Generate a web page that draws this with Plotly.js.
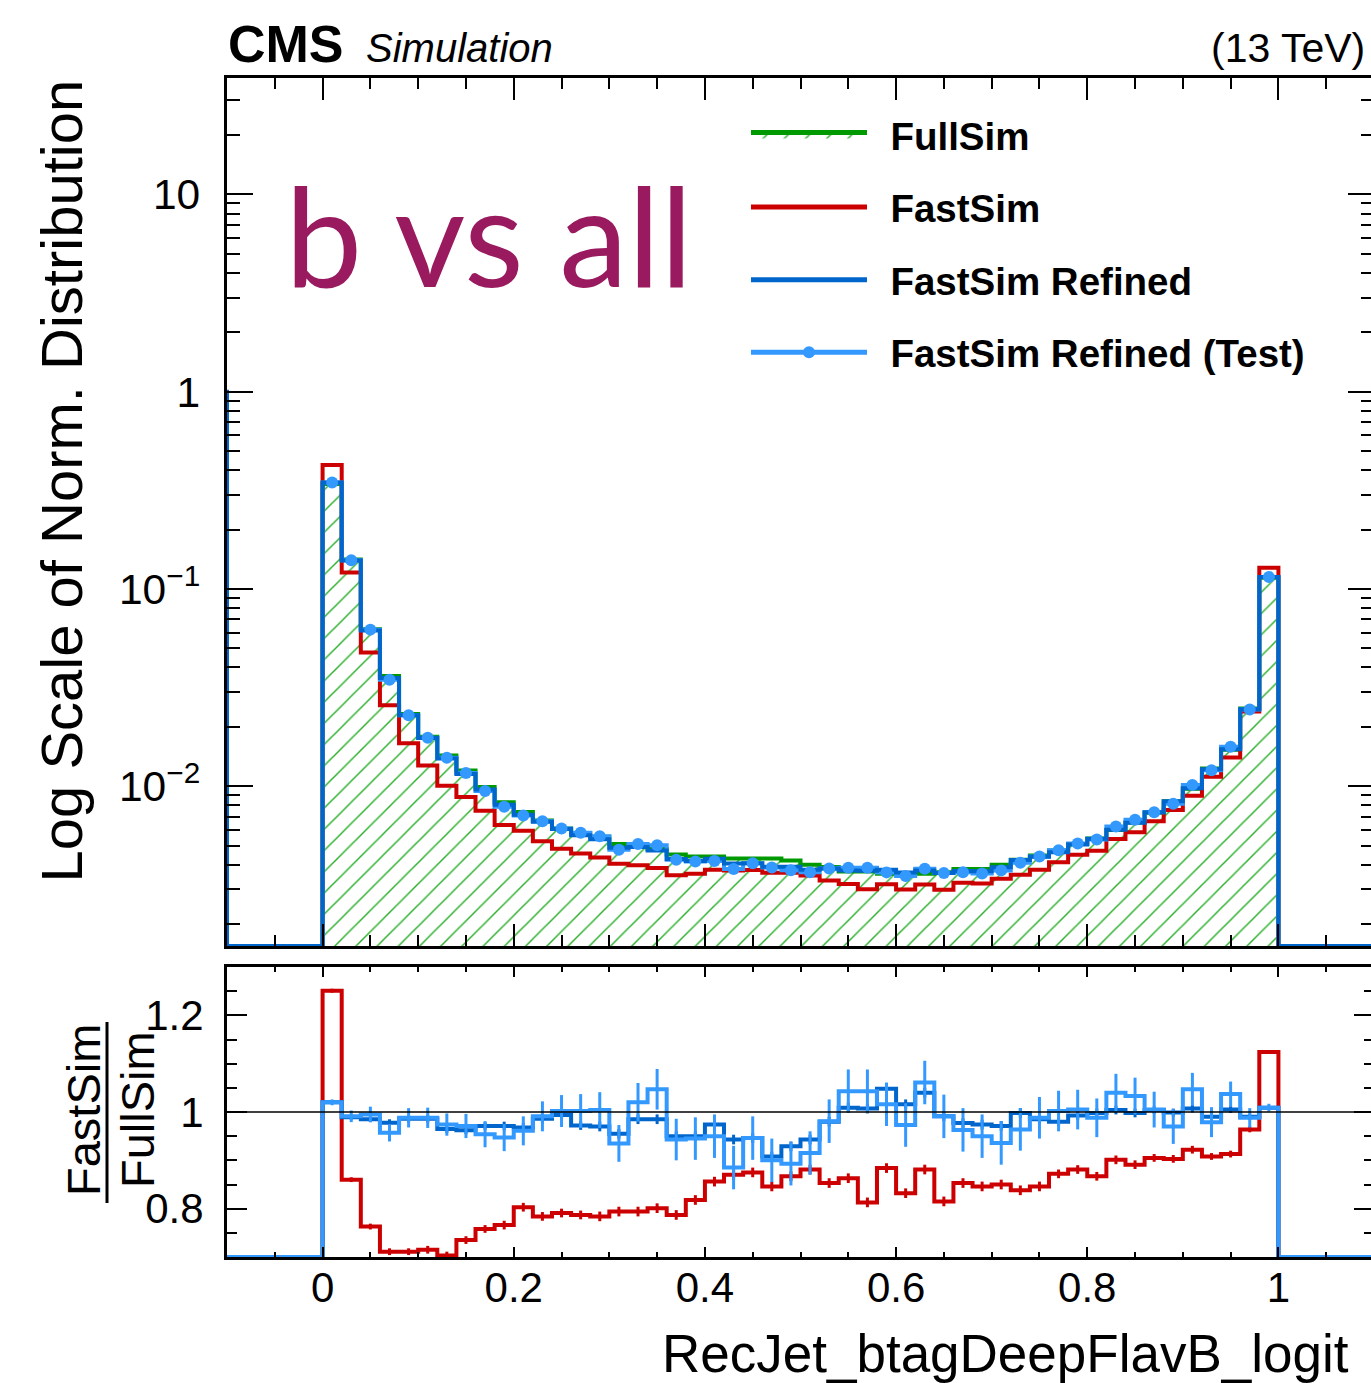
<!DOCTYPE html>
<html>
<head>
<meta charset="utf-8">
<script src="https://cdn.plot.ly/plotly-3.0.1.min.js"></script>
<style>
  html, body { margin: 0; padding: 0; background: #ffffff; overflow: hidden; }
  #chart { width: 1374px; height: 1383px; }
</style>
</head>
<body>
<div id="chart"></div>
<script>
// RecJet_btagDeepFlavB_logit: 50 bins of width 0.02 on [0, 1]
const binLow = 0.0;
const binWidth = 0.02;

// Normalised FullSim distribution, one value per bin
const fullSim = [
  0.340, 0.141, 0.0625, 0.0362, 0.0232, 0.0178, 0.0143, 0.0120, 0.0099, 0.0083,
  0.0074, 0.0067, 0.0061, 0.0058, 0.00555, 0.0051, 0.0050, 0.0048, 0.0045, 0.0044,
  0.0044, 0.0043, 0.0043, 0.0043, 0.0042, 0.0040, 0.0039, 0.0037, 0.0037, 0.0036,
  0.0036, 0.0036, 0.00366, 0.0038, 0.0038, 0.0040, 0.00424, 0.00446, 0.00472, 0.0051,
  0.00543, 0.0060, 0.00655, 0.00734, 0.0084, 0.0097, 0.0123, 0.0153, 0.0248, 0.114
];

// Ratios to FullSim, one value per bin
const ratioFastSim = [
  1.251, 0.860, 0.763, 0.711, 0.711, 0.715, 0.703, 0.735, 0.758, 0.766,
  0.803, 0.784, 0.791, 0.787, 0.784, 0.794, 0.794, 0.801, 0.787, 0.818,
  0.856, 0.870, 0.875, 0.846, 0.867, 0.881, 0.853, 0.863, 0.813, 0.884,
  0.832, 0.881, 0.815, 0.853, 0.846, 0.850, 0.838, 0.846, 0.872, 0.881,
  0.867, 0.901, 0.891, 0.905, 0.903, 0.922, 0.908, 0.913, 0.964, 1.124
];
const ratioRefined = [
  1.020, 0.989, 0.985, 0.978, 0.986, 0.986, 0.965, 0.962, 0.971, 0.971,
  0.968, 0.986, 0.994, 0.972, 0.970, 0.955, 0.985, 0.985, 0.950, 0.950,
  0.974, 0.943, 0.946, 0.908, 0.929, 0.943, 0.980, 1.009, 1.007, 1.048,
  1.016, 1.040, 0.991, 0.977, 0.974, 0.971, 0.998, 0.985, 0.980, 0.993,
  0.998, 1.004, 0.998, 1.004, 0.999, 1.007, 0.990, 1.005, 0.990, 1.009
];
const ratioRefinedTest = [
  1.020, 0.991, 0.995, 0.957, 0.988, 0.988, 0.974, 0.971, 0.954, 0.947,
  0.961, 0.991, 1.002, 1.002, 1.004, 0.935, 1.020, 1.047, 0.943, 0.945,
  0.950, 0.885, 0.946, 0.900, 0.893, 0.915, 0.981, 1.043, 1.043, 1.016,
  0.973, 1.061, 0.991, 0.963, 0.950, 0.936, 0.964, 0.988, 1.002, 1.005,
  0.988, 1.040, 1.033, 1.005, 0.970, 1.047, 0.979, 1.037, 0.988, 1.009
];

// Statistical uncertainties of the ratios
const errFastSim = [
  0.004, 0.005, 0.006, 0.007, 0.007, 0.008, 0.008, 0.008, 0.008, 0.009,
  0.009, 0.009, 0.009, 0.009, 0.010, 0.010, 0.010, 0.010, 0.010, 0.010,
  0.010, 0.010, 0.010, 0.010, 0.010, 0.010, 0.010, 0.010, 0.010, 0.010,
  0.010, 0.010, 0.010, 0.010, 0.010, 0.010, 0.010, 0.010, 0.009, 0.009,
  0.009, 0.009, 0.009, 0.008, 0.008, 0.008, 0.007, 0.007, 0.006, 0.004
];
const errRefined = [
  0.004, 0.005, 0.006, 0.007, 0.007, 0.008, 0.008, 0.008, 0.008, 0.009,
  0.009, 0.009, 0.009, 0.009, 0.010, 0.010, 0.010, 0.010, 0.010, 0.010,
  0.010, 0.010, 0.010, 0.010, 0.010, 0.010, 0.010, 0.010, 0.010, 0.010,
  0.010, 0.010, 0.010, 0.010, 0.010, 0.010, 0.010, 0.010, 0.009, 0.009,
  0.009, 0.009, 0.009, 0.008, 0.008, 0.008, 0.007, 0.007, 0.006, 0.004
];
const errRefinedTest = [
  0.006, 0.012, 0.016, 0.018, 0.020, 0.021, 0.023, 0.025, 0.027, 0.028,
  0.030, 0.031, 0.033, 0.035, 0.037, 0.038, 0.040, 0.042, 0.043, 0.044,
  0.045, 0.045, 0.045, 0.045, 0.045, 0.045, 0.045, 0.045, 0.045, 0.045,
  0.045, 0.045, 0.045, 0.045, 0.045, 0.045, 0.044, 0.043, 0.042, 0.041,
  0.040, 0.039, 0.038, 0.037, 0.036, 0.034, 0.031, 0.026, 0.020, 0.008
];

// FastSim Refined content of the bin just below the axis range
const refinedUnderflow = 1.0;

// Histogram contents derived from FullSim and the ratios
const fastSim = fullSim.map((v, i) => v * ratioFastSim[i]);
const refined = fullSim.map((v, i) => v * ratioRefined[i]);
const refinedTest = fullSim.map((v, i) => v * ratioRefinedTest[i]);

// ---------------------------------------------------------------- geometry
const W = 1374, H = 1383;
const M = { l: 227, r: 0, t: 78, b: 126 };
const plotW = W - M.l - M.r, plotH = H - M.t - M.b;
const paperX = px => (px - M.l) / plotW;
const paperY = py => (H - M.b - py) / plotH;

const X_RANGE = [-0.1, 1.1];
const Y_LOG_RANGE = [-2.81, 1.59];
const RATIO_RANGE = [0.7, 1.3];
const yFloor = Math.pow(10, Y_LOG_RANGE[0]);
const rFloor = RATIO_RANGE[0];
const nPad = Math.round((binLow - X_RANGE[0]) / binWidth);

const FONT = 'Liberation Sans, Arial, Helvetica, sans-serif';
const C_GREEN = '#009900', C_HATCH = '#2fb02f';
const C_RED = '#cc0000', C_BLUE = '#0066cc', C_LIGHT = '#3399ff';
const KEY_GAP = '\u00a0\u2009';   // spacing between legend key and label

// empty bins on both sides of [0, 1], inside the axis range
function padded(values) {
  const z = new Array(nPad).fill(0);
  return z.concat(values, z);
}
// step outline of a histogram starting at lower edge lo; contents below the
// frame are drawn on the frame edge
function step(values, lo, floor) {
  const x = [], y = [];
  values.forEach((v, i) => { x.push(lo + i * binWidth); y.push(Math.max(v, floor)); });
  x.push(lo + values.length * binWidth);
  y.push(Math.max(values[values.length - 1], floor));
  return { x, y };
}
const centers = fullSim.map((_, i) => binLow + (i + 0.5) * binWidth);
const padLow = binLow - nPad * binWidth;

const sFull = step(padded(fullSim), padLow, yFloor);
const sFast = step(padded(fastSim), padLow, yFloor);
const sRef = step([refinedUnderflow].concat(padded(refined)), padLow - binWidth, yFloor);
const sTest = step(padded(refinedTest), padLow, yFloor);

const rFast = step(padded(ratioFastSim), padLow, rFloor);
const rRef = step(padded(ratioRefined), padLow, rFloor);
const rTest = step(padded(ratioRefinedTest), padLow, rFloor);

const traces = [
  { x: sFull.x, y: sFull.y, xaxis: 'x', yaxis: 'y', type: 'scatter', mode: 'lines',
    line: { shape: 'hv', color: C_GREEN, width: 4 }, fill: 'tozeroy',
    fillcolor: 'rgba(0,0,0,0)',
    fillpattern: { shape: '/', fgcolor: C_HATCH, bgcolor: 'rgba(255,255,255,0)', size: 15, solidity: 0.1 },
    name: KEY_GAP + 'FullSim', legendgroup: 'full', legendrank: 1, hoverinfo: 'skip' },
  { x: sFast.x, y: sFast.y, xaxis: 'x', yaxis: 'y', type: 'scatter', mode: 'lines',
    line: { shape: 'hv', color: C_RED, width: 4 },
    name: KEY_GAP + 'FastSim', legendgroup: 'fast', legendrank: 2, hoverinfo: 'skip' },
  { x: sTest.x, y: sTest.y, xaxis: 'x', yaxis: 'y', type: 'scatter', mode: 'lines+markers',
    line: { shape: 'hv', color: C_LIGHT, width: 4 },
    marker: { size: 0.01, color: C_LIGHT },
    name: KEY_GAP + 'FastSim Refined (Test)', legendgroup: 'test', legendrank: 4, hoverinfo: 'skip' },
  { x: sRef.x, y: sRef.y, xaxis: 'x', yaxis: 'y', type: 'scatter', mode: 'lines',
    line: { shape: 'hv', color: C_BLUE, width: 4 },
    name: KEY_GAP + 'FastSim Refined', legendgroup: 'ref', legendrank: 3, hoverinfo: 'skip' },
  { x: centers, y: refinedTest, xaxis: 'x', yaxis: 'y', type: 'scatter', mode: 'markers',
    marker: { size: 12, color: C_LIGHT }, showlegend: false, legendgroup: 'test' },

  // ratio panel
  { x: rFast.x, y: rFast.y, xaxis: 'x2', yaxis: 'y2', type: 'scatter', mode: 'lines',
    line: { shape: 'hv', color: C_RED, width: 4 }, showlegend: false, hoverinfo: 'skip' },
  { x: centers, y: ratioFastSim, xaxis: 'x2', yaxis: 'y2', type: 'scatter', mode: 'markers',
    marker: { size: 1, color: C_RED },
    error_y: { type: 'data', array: errFastSim, color: C_RED, thickness: 3, width: 0 },
    showlegend: false },
  { x: rRef.x, y: rRef.y, xaxis: 'x2', yaxis: 'y2', type: 'scatter', mode: 'lines',
    line: { shape: 'hv', color: C_BLUE, width: 4 }, showlegend: false, hoverinfo: 'skip' },
  { x: centers, y: ratioRefined, xaxis: 'x2', yaxis: 'y2', type: 'scatter', mode: 'markers',
    marker: { size: 1, color: C_BLUE },
    error_y: { type: 'data', array: errRefined, color: C_BLUE, thickness: 3, width: 0 },
    showlegend: false },
  { x: rTest.x, y: rTest.y, xaxis: 'x2', yaxis: 'y2', type: 'scatter', mode: 'lines',
    line: { shape: 'hv', color: C_LIGHT, width: 4 }, showlegend: false, hoverinfo: 'skip' },
  { x: centers, y: ratioRefinedTest, xaxis: 'x2', yaxis: 'y2', type: 'scatter', mode: 'markers',
    marker: { size: 1, color: C_LIGHT },
    error_y: { type: 'data', array: errRefinedTest, color: C_LIGHT, thickness: 3, width: 0 },
    showlegend: false }
];

const frame = {
  showline: true, linecolor: '#000', linewidth: 3, mirror: 'allticks',
  ticks: 'inside', tickcolor: '#000', tickwidth: 2,
  showgrid: false, zeroline: false,
  tickfont: { family: FONT, size: 42, color: '#000' }
};
const topDomain = [paperY(946), 1];
const ratioDomain = [0, paperY(967)];

const layout = {
  width: W, height: H, margin: M,
  paper_bgcolor: '#ffffff', plot_bgcolor: '#ffffff',
  font: { family: FONT, color: '#000' },
  showlegend: true,
  legend: {
    x: paperX(746), y: paperY(103), xanchor: 'left', yanchor: 'top',
    font: { family: FONT, size: 38.5, weight: 'bold', color: '#000' },
    itemwidth: 116, itemsizing: 'constant', tracegroupgap: 19.5, traceorder: 'grouped',
    bgcolor: 'rgba(0,0,0,0)', borderwidth: 0
  },
  xaxis: Object.assign({}, frame, {
    anchor: 'y', range: X_RANGE, tick0: 0, dtick: 0.2, ticklen: 22,
    minor: { ticks: 'inside', ticklen: 11, dtick: 0.05, tickcolor: '#000', tickwidth: 2, showgrid: false },
    showticklabels: false
  }),
  yaxis: Object.assign({}, frame, {
    anchor: 'x', domain: topDomain, type: 'log', range: Y_LOG_RANGE, dtick: 1,
    exponentformat: 'power', tickfont: { family: FONT, size: 34, color: '#000' },
    ticklen: 26, ticklabelstandoff: 17,
    minor: { ticks: 'inside', ticklen: 13, dtick: 'D1', tickcolor: '#000', tickwidth: 2, showgrid: false }
  }),
  xaxis2: Object.assign({}, frame, {
    anchor: 'y2', range: X_RANGE, tick0: 0, dtick: 0.2, ticklen: 10, ticklabelstandoff: -8,
    minor: { ticks: 'inside', ticklen: 5, dtick: 0.05, tickcolor: '#000', tickwidth: 2, showgrid: false }
  }),
  yaxis2: Object.assign({}, frame, {
    anchor: 'x2', domain: ratioDomain, range: RATIO_RANGE, tick0: 0, dtick: 0.2,
    ticklen: 20, ticklabelstandoff: 12,
    minor: { ticks: 'inside', ticklen: 10, dtick: 0.05, tickcolor: '#000', tickwidth: 2, showgrid: false }
  }),
  shapes: [
    { type: 'line', xref: 'x2 domain', yref: 'y2', x0: 0, x1: 1, y0: 1, y1: 1,
      line: { color: '#000', width: 1.5 }, layer: 'above' },
    { type: 'line', xref: 'paper', yref: 'paper',
      x0: paperX(107), x1: paperX(107), y0: paperY(1022), y1: paperY(1203),
      line: { color: '#000', width: 3 } }
  ],
  annotations: [
    { text: '<b>CMS</b>', xref: 'paper', yref: 'paper', x: paperX(226), y: paperY(44),
      xanchor: 'left', yanchor: 'middle', showarrow: false,
      font: { family: FONT, size: 52, color: '#000' } },
    { text: '<i>Simulation</i>', xref: 'paper', yref: 'paper', x: paperX(364), y: paperY(48),
      xanchor: 'left', yanchor: 'middle', showarrow: false,
      font: { family: FONT, size: 40, color: '#000' } },
    { text: '(13 TeV)', xref: 'paper', yref: 'paper', x: paperX(1367), y: paperY(48),
      xanchor: 'right', yanchor: 'middle', showarrow: false,
      font: { family: FONT, size: 41, color: '#000' } },
    { text: 'b vs all', xref: 'paper', yref: 'paper', x: paperX(283), y: paperY(233),
      xanchor: 'left', yanchor: 'middle', showarrow: false,
      font: { family: 'Lato, Open Sans, sans-serif', size: 138, color: '#991a5e' } },
    { text: 'Log Scale of Norm. Distribution', xref: 'paper', yref: 'paper',
      x: paperX(61), y: paperY(78), xanchor: 'center', yanchor: 'top', textangle: -90,
      showarrow: false, font: { family: FONT, size: 58, color: '#000' } },
    { text: 'FastSim', xref: 'paper', yref: 'paper', x: paperX(83), y: paperY(1110),
      xanchor: 'center', yanchor: 'middle', textangle: -90, showarrow: false,
      font: { family: FONT, size: 47, color: '#000' } },
    { text: 'FullSim', xref: 'paper', yref: 'paper', x: paperX(137), y: paperY(1110),
      xanchor: 'center', yanchor: 'middle', textangle: -90, showarrow: false,
      font: { family: FONT, size: 47, color: '#000' } },
    { text: 'RecJet_btagDeepFlavB_logit', xref: 'paper', yref: 'paper',
      x: paperX(1351), y: paperY(1353), xanchor: 'right', yanchor: 'middle',
      showarrow: false, font: { family: FONT, size: 53, color: '#000' } }
  ]
};

Plotly.newPlot('chart', traces, layout, { displayModeBar: false, staticPlot: true });
</script>
</body>
</html>
